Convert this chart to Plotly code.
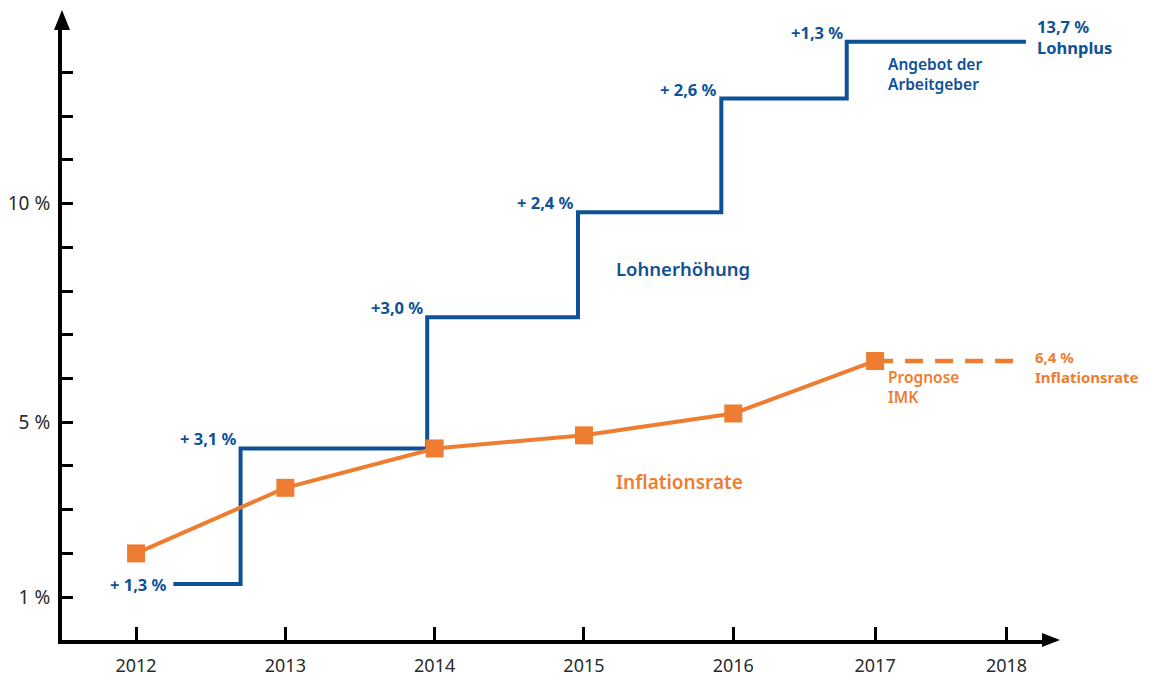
import plotly.graph_objects as go

# ---- data ----
year_labels = ["2012", "2013", "2014", "2015", "2016", "2017", "2018"]
year_pos = [2012, 2013, 2014, 2015, 2016, 2016.95, 2017.83]

infl_x = [2012, 2013, 2014, 2015, 2016, 2016.95]
infl_y = [2.0, 3.5, 4.4, 4.7, 5.2, 6.4]
forecast_x = [2016.95, 2017.9]
forecast_y = [6.4, 6.4]

wage_x = [2012.25, 2012.70, 2013.95, 2014.96, 2015.92, 2016.76, 2017.96]
wage_level = [1.3, 4.4, 7.4, 9.8, 12.4, 13.7, 13.7]
wage_labels = ["+ 1,3 %", "+ 3,1 %", "+3,0 %", "+ 2,4 %", "+ 2,6 %", "+1,3 %"]

y_ticks = list(range(1, 14))
y_ticktext = ["1 %", "", "", "", "5 %", "", "", "", "", "10 %", "", "", ""]

BLUE = "#0f5196"
ORANGE = "#ee7d31"
FONT = "Noto Sans"

fig = go.Figure()

fig.add_trace(go.Scatter(
    x=wage_x, y=wage_level, mode="lines", line=dict(color=BLUE, width=4, shape="hv"),
    hoverinfo="skip", showlegend=False))

fig.add_trace(go.Scatter(
    x=forecast_x, y=forecast_y, mode="lines",
    line=dict(color=ORANGE, width=4.5, dash="18px,12px"),
    hoverinfo="skip", showlegend=False))

fig.add_trace(go.Scatter(
    x=infl_x, y=infl_y, mode="lines+markers",
    line=dict(color=ORANGE, width=4),
    marker=dict(symbol="square", size=18, color=ORANGE),
    hoverinfo="skip", showlegend=False))

annotations = []
for i, txt in enumerate(wage_labels):
    if i == 0:
        annotations.append(dict(x=wage_x[i], y=wage_level[i], text=txt, xanchor="right",
                                yanchor="middle", xshift=-4, showarrow=False,
                                font=dict(family=FONT, size=16.5, color=BLUE, weight="bold")))
    else:
        annotations.append(dict(x=wage_x[i], y=wage_level[i], text=txt, xanchor="right",
                                yanchor="bottom", xshift=-2, yshift=-4, showarrow=False,
                                font=dict(family=FONT, size=16.5, color=BLUE, weight="bold")))

def txt(x, y, s, color, size=15, anchor="left", weight="bold"):
    annotations.append(dict(x=x, y=y, text=s, xanchor=anchor, yanchor="middle",
                            showarrow=False, align="left",
                            font=dict(family=FONT, size=size, color=color, weight=weight)))

txt(2018.02, 13.8, "13,7 %<br>Lohnplus", BLUE, 16.5)
txt(2017.02, 12.97, "Angebot der<br>Arbeitgeber", BLUE, 15.5, weight=600)
txt(2015.66, 8.51, "Lohnerhöhung", BLUE, 18.5, anchor="center", weight=600)
txt(2015.64, 3.63, "Inflationsrate", ORANGE, 19, anchor="center", weight=600)
txt(2017.02, 5.81, "Prognose<br>IMK", ORANGE, 15.5, weight=600)
txt(2018.01, 6.26, "6,4 %<br>Inflationsrate", ORANGE, 15)

fig.update_layout(
    width=1142, height=670,
    margin=dict(l=54, r=102, t=18, b=38),
    paper_bgcolor="white", plot_bgcolor="white",
    annotations=annotations,
    xaxis=dict(range=[2011.504, 2018.108], tickvals=year_pos, ticktext=year_labels,
               showline=True, linewidth=4, linecolor="black", automargin=False,
               ticks="inside", ticklen=13, tickwidth=3, tickcolor="black",
               showgrid=False, zeroline=False, ticklabelstandoff=6,
               tickfont=dict(family=FONT, size=18, color="#2b2b2b")),
    yaxis=dict(range=[0.02, 14.06], tickvals=y_ticks, ticktext=y_ticktext,
               showline=True, linewidth=4, linecolor="black", automargin=False,
               ticks="inside", ticklen=11, tickwidth=2.5, tickcolor="black",
               showgrid=False, zeroline=False, ticklabelstandoff=4,
               tickfont=dict(family=FONT, size=19, color="#2b2b2b")),
    shapes=[
        dict(type="path", xref="paper", yref="paper", xsizemode="pixel", ysizemode="pixel",
             xanchor=1, yanchor=0, path="M -6 7 L 12 0 L -6 -7 Z",
             fillcolor="black", line=dict(width=0)),
        dict(type="path", xref="paper", yref="paper", xsizemode="pixel", ysizemode="pixel",
             xanchor=0, yanchor=1, path="M -8 -4 L 0 16 L 8 -4 Z",
             fillcolor="black", line=dict(width=0)),
    ],
)

fig.write_html("out.html")
